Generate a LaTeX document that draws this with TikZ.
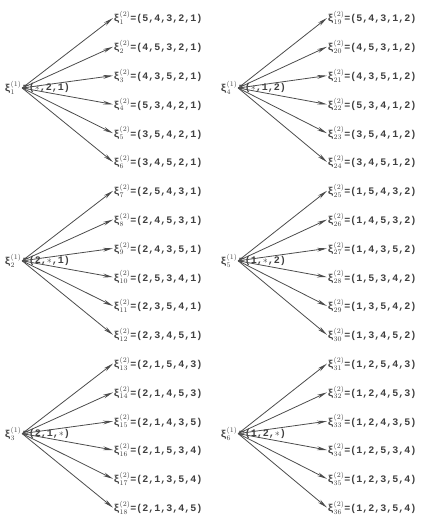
\documentclass[tikz,border=0pt]{standalone}
\usepackage{fontspec}
\setmainfont{Liberation Mono}
\usetikzlibrary{arrows.meta}
\newcommand{\xs}[2]{ξ$^{(#1)}_{#2}$}
\begin{document}
\begin{tikzpicture}[x=1pt,y=-1pt,
  lbl/.style={anchor=west,inner sep=0.5pt,font=\fontsize{10}{12}\selectfont\bfseries,text=black!75},
  arr/.style={draw=black!70,line width=0.8pt,-{Stealth[length=10pt,width=3.8pt]}}]
\useasboundingbox (0,0) rectangle (438,522);
% roots
\foreach \g/\t in {1/{$\ast$,2,1},2/{2,$\ast$,1},3/{2,1,$\ast$},4/{$\ast$,1,2},5/{1,$\ast$,2},6/{1,2,$\ast$}}{
  \pgfmathsetmacro\xr{\g>3 ? 220 : 4}
  \pgfmathsetmacro\yr{18+(mod(\g-1,3)*6+2.5)*28.8-2}
  \node[lbl] (r\g) at (\xr,\yr) {\xs{1}{\g}};
  \node[lbl] (e\g) at (r\g.east) {=(\t)};
}
% children
\foreach \k/\t in {1/{5,4,3,2,1},2/{4,5,3,2,1},3/{4,3,5,2,1},4/{5,3,4,2,1},5/{3,5,4,2,1},6/{3,4,5,2,1},
  7/{2,5,4,3,1},8/{2,4,5,3,1},9/{2,4,3,5,1},10/{2,5,3,4,1},11/{2,3,5,4,1},12/{2,3,4,5,1},
  13/{2,1,5,4,3},14/{2,1,4,5,3},15/{2,1,4,3,5},16/{2,1,5,3,4},17/{2,1,3,5,4},18/{2,1,3,4,5},
  19/{5,4,3,1,2},20/{4,5,3,1,2},21/{4,3,5,1,2},22/{5,3,4,1,2},23/{3,5,4,1,2},24/{3,4,5,1,2},
  25/{1,5,4,3,2},26/{1,4,5,3,2},27/{1,4,3,5,2},28/{1,5,3,4,2},29/{1,3,5,4,2},30/{1,3,4,5,2},
  31/{1,2,5,4,3},32/{1,2,4,5,3},33/{1,2,4,3,5},34/{1,2,5,3,4},35/{1,2,3,5,4},36/{1,2,3,5,4}}{
  \pgfmathtruncatemacro\gg{div(\k-1,6)+1}
  \pgfmathtruncatemacro\col{\k>18 ? 1 : 0}
  \pgfmathsetmacro\row{\k-1-18*\col}
  \pgfmathsetmacro\xc{\col==1 ? 327 : 113}
  \pgfmathsetmacro\yc{18+\row*28.8}
  \node[lbl] (c\k) at (\xc,\yc) {\xs{2}{\k}=(\t)};
  \draw[arr] (r\gg.east) -- (c\k.west);
}
\end{tikzpicture}
\end{document}
